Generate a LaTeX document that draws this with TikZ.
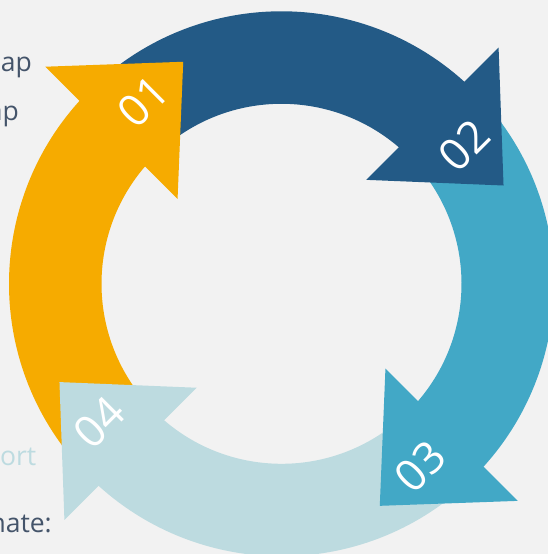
\documentclass[tikz,border=0pt]{standalone}
\usepackage{fontspec}
\newfontfamily\labf{Open Sans}
\newfontfamily\sidef{Open Sans}
\definecolor{bgc}{HTML}{F2F2F2}
\definecolor{cA}{HTML}{F6AB00}
\definecolor{cB}{HTML}{235A86}
\definecolor{cC}{HTML}{42A8C6}
\definecolor{cD}{HTML}{BDDBE0}
\definecolor{txt}{HTML}{44546A}
\tikzset{
  numlab/.style={text=white,font=\labf\fontsize{44}{44}\selectfont,inner sep=0pt,rotate=45},
  sidetext/.style={font=\sidef\fontsize{26.5}{26.5}\selectfont,inner sep=0pt,anchor=base east}
}
\begin{document}
\begin{tikzpicture}[x=1pt,y=1pt]
\useasboundingbox (0,0) rectangle (548,554);
\clip (0,0) rectangle (548,554);
\fill[bgc] (0,0) rectangle (548,554);
\coordinate (C) at (281.5,270.2);
% bands
\foreach \ang/\col in {135/cA,45/cB,-45/cC,-135/cD}{
  \begin{scope}[shift={(C)},rotate=\ang]
    \fill[\col] (83:272.5) arc[start angle=83,end angle=0,radius=272.5]
      -- (0:180) arc[start angle=0,end angle=83,radius=180] -- cycle;
  \end{scope}
}
% heads and labels
\foreach \ang/\col/\n in {135/cA/1,45/cB/2,-45/cC/3,-135/cD/4}{
  \begin{scope}[shift={(C)},rotate=\ang]
    \fill[\col] (133.5,13.5) -- (320.5,13.5) -- (226.5,-87.5) -- cycle;
    \node[numlab] (lab\n) at (227,-31) {0\n};
  \end{scope}
}
% cropped side texts
\node[sidetext,text=txt] (t1) at (32,482.5) {nap};
\node[sidetext,text=txt] (t2) at (19,433.5) {ap};
\node[sidetext,text=cD] (t3) at (36.5,88.5) {ort};
\node[sidetext,text=txt] (t4) at (52,21) {nate:};
\end{tikzpicture}
\end{document}
